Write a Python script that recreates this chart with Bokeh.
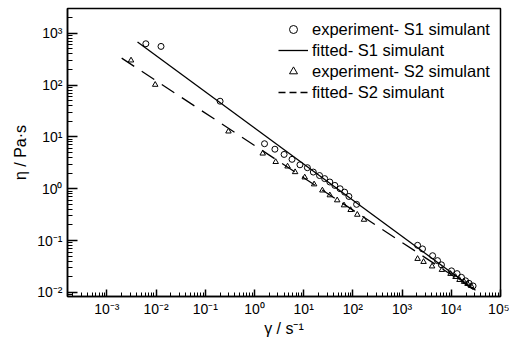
from bokeh.plotting import figure
from bokeh.models import Range1d, FixedTicker, CustomJSTickFormatter, Legend, LegendItem
from bokeh.embed import file_html
from bokeh.resources import INLINE

# ---- data ----
s1_x = [0.0062, 0.0126, 0.2, 1.6, 2.6, 4.0, 5.8, 8.4, 11.9, 15.7, 21, 26.7, 34, 43, 55, 68, 83, 119,
        2065, 2600, 4170, 5250, 6300, 10100, 13100, 16100, 19500, 23000, 27700]
s1_y = [630, 560, 49, 7.4, 5.8, 4.6, 3.7, 2.9, 2.55, 2.1, 1.8, 1.57, 1.35, 1.16, 1.0, 0.86, 0.71, 0.50,
        0.081, 0.069, 0.051, 0.041, 0.034, 0.026, 0.023, 0.0195, 0.0167, 0.0149, 0.0133]

s2_x = [0.0031, 0.0096, 0.296, 1.47, 2.7, 4.7, 6.7, 10.5, 16.3, 24, 34, 48, 66, 90, 123, 168,
        2065, 2730, 4070, 6450, 9650, 12200, 14700, 18200, 21400, 25300]
s2_y = [301, 102, 12.8, 4.8, 3.3, 2.7, 2.1, 1.66, 1.22, 0.93, 0.75, 0.60, 0.48, 0.39, 0.316, 0.253,
        0.0444, 0.0388, 0.0318, 0.0272, 0.0228, 0.0199, 0.0174, 0.0160, 0.0146, 0.0133]

fit1_x = [0.0042, 31000]
fit1_y = [680, 0.011]
fit2_x = [0.0020, 28300]
fit2_y = [333, 0.0114]

x_ticks = [1e-3, 1e-2, 1e-1, 1e0, 1e1, 1e2, 1e3, 1e4, 1e5]
y_ticks = [1e-2, 1e-1, 1e0, 1e1, 1e2, 1e3]
x_minor = [m * 10.0 ** k for k in range(-4, 5) for m in range(2, 10)]
y_minor = [m * 10.0 ** k for k in range(-3, 4) for m in range(2, 10)]

labels = ["experiment- S1 simulant", "fitted- S1 simulant",
          "experiment- S2 simulant", "fitted- S2 simulant"]
x_title = "\u03b3 / s\u207b\u00b9"
y_title = "\u03b7 / Pa\u00b7s"

FONT = "Liberation Sans"
NAN = float("nan")

p = figure(width=509, height=344, x_axis_type="log", y_axis_type="log",
           x_range=Range1d(10 ** -3.8, 10 ** 5.0), y_range=Range1d(10 ** -2.08, 10 ** 3.48),
           output_backend="svg", toolbar_location=None,
           min_border_left=67, min_border_right=9, min_border_top=8, min_border_bottom=48)

p.xgrid.visible = False
p.ygrid.visible = False
p.outline_line_color = "black"
p.outline_line_width = 1.5
p.background_fill_color = "white"
p.border_fill_color = "white"

fmt_code = """
const sup = {"-":"\u207b","0":"\u2070","1":"\u00b9","2":"\u00b2","3":"\u00b3","4":"\u2074",
             "5":"\u2075","6":"\u2076","7":"\u2077","8":"\u2078","9":"\u2079"};
const e = Math.round(Math.log10(tick));
return "10" + String(e).split("").map(c => sup[c]).join("");
"""

xa = p.xaxis[0]
ya = p.yaxis[0]
xa.ticker = FixedTicker(ticks=x_ticks, minor_ticks=x_minor)
ya.ticker = FixedTicker(ticks=y_ticks, minor_ticks=y_minor)
for ax in (xa, ya):
    ax.formatter = CustomJSTickFormatter(code=fmt_code)
    ax.axis_line_width = 1.5
    ax.axis_line_color = "black"
    ax.major_tick_out = 0
    ax.minor_tick_out = 0
    ax.major_tick_line_width = 1.5
    ax.minor_tick_line_width = 1
    ax.major_tick_line_color = "black"
    ax.minor_tick_line_color = "black"
    ax.major_label_text_font = FONT
    ax.major_label_text_font_size = "14px"
    ax.major_label_text_color = "black"
    ax.axis_label_text_font = FONT
    ax.axis_label_text_font_size = "16px"
    ax.axis_label_text_font_style = "normal"
    ax.axis_label_text_color = "black"

xa.major_tick_in = 7
xa.minor_tick_in = 4
ya.major_tick_in = 10
ya.minor_tick_in = 5
xa.major_label_standoff = 4
ya.major_label_standoff = 5
xa.axis_label = x_title
ya.axis_label = y_title
xa.axis_label_standoff = 0
ya.axis_label_standoff = 5

r1 = p.scatter(s1_x, s1_y, marker="circle", size=6, fill_color=None, line_color="black", line_width=1)
f1 = p.line(fit1_x, fit1_y, line_color="black", line_width=1.3)
r2 = p.scatter(s2_x, s2_y, marker="triangle", size=5.5, fill_color=None, line_color="black", line_width=1)
f2 = p.line(fit2_x, fit2_y, line_color="black", line_width=1.3, line_dash="15 9")
# legend-only sample with the short dash used in the key (no visible data)
f2_key = p.line([NAN, NAN], [NAN, NAN], line_color="black", line_width=1.3, line_dash="7 4")

legend = Legend(items=[LegendItem(label=labels[0], renderers=[r1]),
                       LegendItem(label=labels[1], renderers=[f1]),
                       LegendItem(label=labels[2], renderers=[r2]),
                       LegendItem(label=labels[3], renderers=[f2_key])],
                location=(211, 194))
legend.border_line_color = None
legend.background_fill_alpha = 0
legend.padding = 0
legend.margin = 0
legend.spacing = 1
legend.glyph_width = 30
legend.glyph_height = 20
legend.label_height = 20
legend.label_standoff = 4
legend.label_text_font = FONT
legend.label_text_font_size = "16.5px"
legend.label_text_color = "black"
p.add_layout(legend)

open("out.html", "w").write(file_html(p, INLINE))
